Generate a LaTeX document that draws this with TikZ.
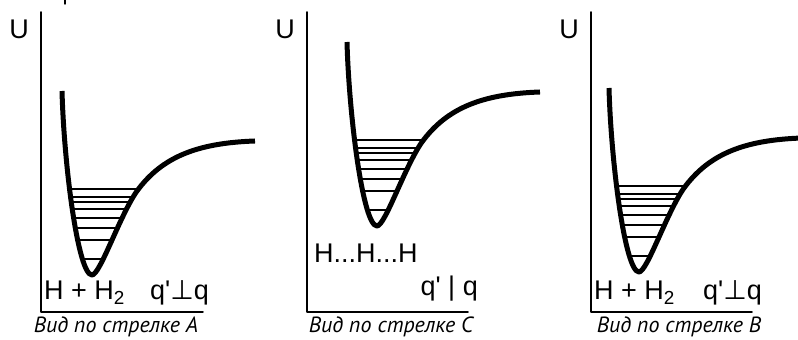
\documentclass[tikz,border=0pt]{standalone}
\usepackage{fontspec}
\setmainfont{Liberation Sans}
\newfontfamily\capfont{PT Sans}
\newfontfamily\perpfont{DejaVu Sans}
\tikzset{
  axis/.style={line width=1.5pt},
  wellcurve/.style={line width=5pt, line cap=butt},
  level/.style={line width=1.1pt},
  lbl/.style={font=\fontsize{27}{27}\selectfont, inner sep=0pt},
  capt/.style={font=\fontsize{22}{22}\selectfont\capfont\itshape, inner sep=0pt},
}
\newcommand{\qperp}{q\textquotesingle{\perpfont ⊥}q}
\begin{document}
\begin{tikzpicture}[x=1pt, y=1pt, line join=round, line cap=round]
\useasboundingbox (0,0) rectangle (798,340);
\def\well{(-30,184) .. controls (-28,110) and (-14,0) .. (0,0) .. controls (8,0) and (28,60) .. (45,84) .. controls (70,118) and (105,132) .. (163,134)}
\draw[axis] (65,340) -- (65,336);
% three views of the well
\foreach \ax/\rx/\mx/\my/\n in {41/203/92/65/a, 307/468/377/114/c, 591/752/639/68/b} {
  \coordinate (top\n) at (\ax,328);
  \coordinate (org\n) at (\ax,28);
  \coordinate (end\n) at (\rx,28);
  \draw[axis] (top\n) -- (org\n) -- (end\n);
  \node[lbl, anchor=east] (u\n) at (\ax-12,311) {U};
  \begin{scope}[shift={(\mx,\my)}]
    \begin{scope}
      \clip \well -- cycle;
      \foreach \e in {16,35,47,57,66,73,78,86} \draw[level] (-40,\e) -- (80,\e);
    \end{scope}
    \draw[wellcurve] \well;
  \end{scope}
}
\node[lbl, anchor=base west] (ra) at (44,40) {H + H\textsubscript{2}};
\node[lbl, anchor=base east] (qa) at (209,40) {\qperp};
\node[lbl, anchor=base west] (rc) at (314,77) {H...H...H};
\node[lbl, anchor=base east] (qc) at (478,44) {q\textquotesingle\ | q};
\node[lbl, anchor=base west] (rb) at (594,40) {H + H\textsubscript{2}};
\node[lbl, anchor=base east] (qb) at (762,40) {\qperp};
\node[capt, anchor=base] (cpa) at (116,7) {Вид по стрелке А};
\node[capt, anchor=base] (cpc) at (391,7) {Вид по стрелке С};
\node[capt, anchor=base] (cpb) at (679,7) {Вид по стрелке В};
\end{tikzpicture}
\end{document}
